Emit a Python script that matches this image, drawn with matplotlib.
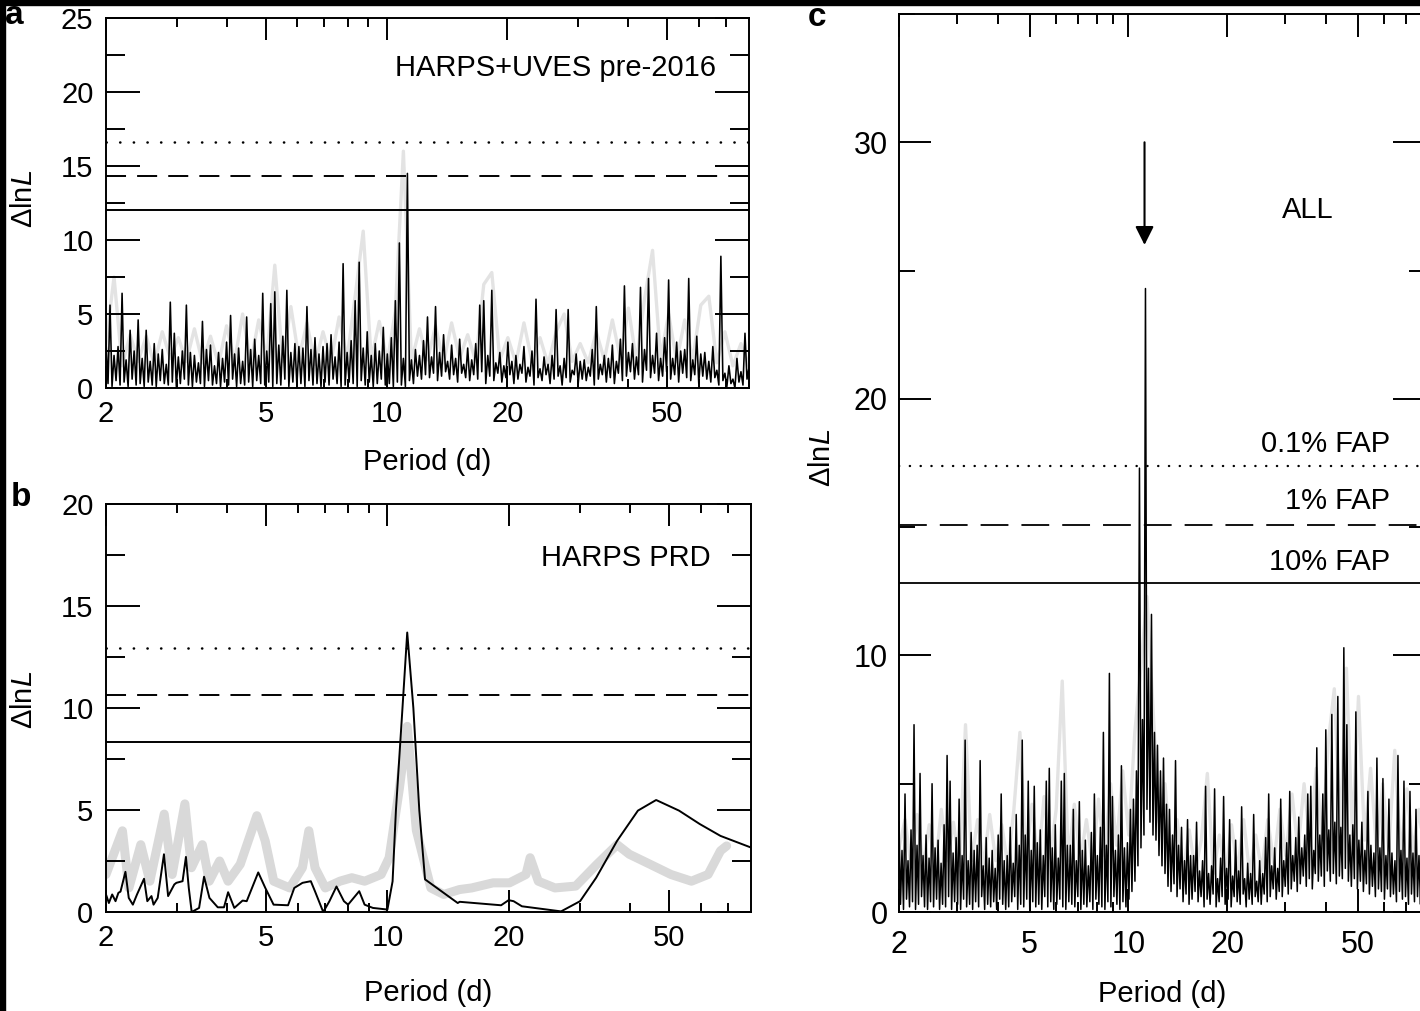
import numpy as np
import matplotlib
matplotlib.use('Agg')
import matplotlib.pyplot as plt
from matplotlib.ticker import FixedLocator, MultipleLocator, NullFormatter, FuncFormatter
from matplotlib.patches import Rectangle

plt.rcParams['font.family'] = ['Liberation Sans', 'DejaVu Sans']
plt.rcParams['mathtext.fontset'] = 'custom'
plt.rcParams['mathtext.rm'] = 'Liberation Sans'
plt.rcParams['mathtext.it'] = 'Liberation Sans:italic'

# ---- axis setup shared by the three panels
PMIN, PMAX = 2.0, 80.0
MAJOR_P = [2, 5, 10, 20, 50]
MINOR_P = [3, 4, 6, 7, 8, 9, 30, 40, 60, 70]

# ---- panel a: HARPS+UVES pre-2016
# local maxima and the minima between them, on a log-spaced period grid
a_peak = [
    3.2, 5.6, 2.2, 2.8, 6.4, 1.9, 3.9, 2.5, 4.6, 2.0,
    3.9, 1.8, 3.0, 2.3, 2.6, 1.6, 5.8, 3.7, 2.1, 2.5,
    5.6, 2.4, 2.2, 1.7, 4.5, 2.6, 2.9, 1.5, 2.4, 2.0,
    3.1, 4.9, 2.3, 2.7, 1.8, 4.8, 2.6, 3.3, 2.2, 6.4,
    2.5, 5.7, 6.5, 2.9, 3.5, 6.6, 2.4, 3.0, 2.8, 2.7,
    5.5, 2.6, 3.4, 2.3, 2.8, 3.0, 3.6, 2.1, 3.1, 8.4,
    2.4, 3.2, 5.9, 8.5, 2.7, 3.8, 2.2, 3.0, 2.5, 4.1,
    2.3, 3.4, 5.9, 9.8, 2.0, 14.5, 1.9, 2.6, 2.2, 3.2,
    4.8, 2.1, 5.5, 2.4, 3.6, 1.8, 2.9, 2.0, 3.3, 1.6,
    2.7, 1.9, 3.0, 5.6, 5.9, 2.2, 6.6, 1.7, 2.4, 1.5,
    3.1, 1.8, 2.2, 1.6, 2.8, 1.4, 2.5, 6.0, 1.3, 2.1,
    1.6, 2.2, 5.3, 1.5, 2.0, 5.3, 1.2, 2.3, 1.8, 1.9,
    1.4, 2.6, 5.5, 1.6, 2.2, 2.0, 2.9, 1.8, 3.3, 6.9,
    2.4, 3.0, 2.1, 6.8, 2.6, 7.4, 2.2, 3.7, 2.0, 3.4,
    7.3, 2.0, 3.1, 2.5, 2.6, 7.4, 1.9, 3.5, 2.3, 2.4,
    1.8, 2.8, 1.2, 8.9, 1.0, 1.5, 0.6, 2.0, 1.1, 3.7,
    1.4,
]
a_low = [
    0.3, 0.1, 0.5, 0.2, 0.4, 0.1, 0.6, 0.2, 0.3, 0.1,
    0.4, 0.2, 0.1, 0.5, 0.3, 0.2, 0.4, 0.1, 0.3, 0.6,
    0.2, 0.1, 0.4, 0.3, 0.1, 0.5, 0.2, 0.3, 0.1, 0.4,
    0.2, 0.6, 0.1, 0.3, 0.2, 0.4, 0.1, 0.5, 0.3, 0.2,
    0.4, 0.1, 0.3, 0.2, 0.6, 0.1, 0.4, 0.2, 0.3, 0.1,
    0.5, 0.2, 0.3, 0.1, 0.4, 0.2, 0.6, 0.3, 0.1, 0.2,
    0.4, 0.3, 0.1, 0.5, 0.2, 0.4, 0.1, 0.3, 0.6, 0.2,
    0.3, 0.1, 0.4, 0.2, 0.1, 0.5, 0.3, 0.8, 0.6, 0.9,
    0.7, 1.0, 0.5, 0.8, 1.1, 0.6, 0.9, 0.4, 1.0, 0.7,
    0.5, 0.9, 0.6, 1.1, 0.3, 0.8, 0.5, 1.0, 0.4, 0.7,
    0.9, 0.3, 0.6, 1.0, 0.4, 0.8, 0.2, 0.7, 0.5, 0.9,
    0.3, 0.6, 0.8, 0.2, 0.7, 0.4, 0.9, 0.3, 0.6, 0.5,
    0.8, 0.2, 0.6, 0.9, 0.4, 0.7, 0.3, 1.0, 0.5, 0.8,
    1.1, 0.6, 0.9, 0.4, 1.2, 0.7, 1.0, 0.5, 0.8, 1.1,
    0.6, 0.9, 0.4, 1.0, 0.7, 0.5, 0.9, 0.3, 0.8, 0.6,
    0.4, 0.7, 0.2, 0.5, 0.1, 0.3, 0.0, 0.4, 0.2, 0.6,
]
a_gray = [
    3.0, 7.5, 1.5, 3.6, 1.8, 3.5, 1.6, 3.8, 2.0, 3.4,
    1.8, 4.0, 1.7, 3.5, 1.6, 4.2, 1.8, 5.0, 1.7, 4.6,
    2.0, 8.3, 1.8, 5.5, 2.0, 4.4, 1.6, 3.8, 1.8, 4.8,
    2.0, 6.2, 10.6, 1.9, 4.5, 1.8, 5.2, 16.0, 1.8, 4.0,
    1.9, 4.2, 1.7, 4.4, 2.0, 3.6, 1.8, 7.0, 7.8, 1.9,
    3.4, 1.7, 4.4, 1.8, 3.4, 1.6, 3.8, 5.0, 1.8, 3.0,
    1.7, 3.8, 1.9, 4.6, 2.0, 5.4, 1.8, 6.0, 9.3, 2.0,
    5.0, 1.8, 4.6, 1.9, 5.6, 6.2, 1.7, 3.8, 1.5, 3.0,
    1.5,
]
a_fap = [16.6, 14.3, 12.0]   # 0.1 %, 1 %, 10 %

# ---- panel b: HARPS PRD
b_black_period = [
    2.00, 2.033, 2.072, 2.112, 2.147, 2.173, 2.235, 2.278, 2.332, 2.388,
    2.486, 2.533, 2.594, 2.625, 2.688, 2.786, 2.853, 2.956, 2.991, 3.099,
    3.159, 3.211, 3.265, 3.406, 3.504, 3.614, 3.790, 3.927, 4.021, 4.166,
    4.368, 4.472, 4.777, 4.974, 5.215, 5.665, 5.871, 6.154, 6.453, 6.607,
    6.928, 7.178, 7.473, 7.798, 7.985, 8.511, 8.777, 9.203, 10.0, 10.3,
    10.5, 10.9, 11.2, 11.6, 12.0, 12.4, 14.95, 15.12, 19.16, 20.0,
    20.58, 21.58, 27.0, 30.1, 33.0, 37.2, 41.9, 46.5, 53.0, 59.7,
    67.2, 80.0,
]
b_black_value = [
    0.86, 0.44, 0.86, 0.53, 0.94, 1.00, 1.97, 0.69, 0.36, 0.86,
    1.63, 0.53, 0.78, 0.36, 0.69, 2.83, 0.78, 1.35, 1.43, 1.51,
    2.70, 1.18, 0.00, 0.20, 1.73, 0.69, 0.23, 0.23, 0.97, 0.20,
    0.56, 0.53, 1.94, 1.18, 0.36, 0.33, 1.18, 1.43, 1.51, 1.02,
    0.00, 0.53, 1.25, 0.53, 0.36, 1.02, 0.36, 0.20, 0.12, 1.50,
    5.00, 10.0, 13.7, 10.0, 5.00, 1.60, 0.44, 0.50, 0.33, 0.58,
    0.53, 0.28, 0.03, 0.53, 1.68, 3.49, 4.97, 5.49, 4.97, 4.31,
    3.73, 3.16,
]
b_gray_period = [
    2.00, 2.197, 2.28, 2.44, 2.57, 2.79, 2.92, 3.14, 3.26, 3.47,
    3.61, 3.83, 4.02, 4.31, 4.74, 4.97, 5.22, 5.72, 6.15, 6.38,
    6.61, 7.01, 7.62, 8.16, 8.78, 9.65, 10.1, 10.7, 11.2, 11.8,
    12.82, 13.8, 15.1, 16.2, 18.3, 20.1, 22.09, 22.62, 23.7, 26.07,
    29.35, 33.0, 37.2, 39.9, 44.9, 50.6, 56.9, 62.6, 67.2, 69.6,
]
b_gray_value = [
    1.84, 3.98, 1.18, 3.30, 1.51, 4.80, 1.84, 5.30, 2.17, 3.30,
    1.51, 2.50, 1.51, 2.34, 4.72, 3.49, 1.51, 1.18, 2.17, 3.98,
    2.17, 1.18, 1.51, 1.68, 1.51, 1.84, 2.66, 6.00, 9.10, 4.00,
    1.18, 0.86, 1.10, 1.18, 1.43, 1.43, 1.84, 2.66, 1.51, 1.18,
    1.27, 2.30, 3.30, 2.83, 2.34, 1.84, 1.51, 1.84, 3.00, 3.24,
]
b_fap = [12.94, 10.64, 8.33]

# ---- panel c: ALL
c_peak = [
    3.5, 2.4, 4.6, 2.0, 3.2, 7.3, 2.6, 5.4, 2.2, 3.0,
    2.1, 5.0, 2.5, 2.8, 1.9, 3.4, 6.1, 5.1, 2.3, 2.9,
    4.4, 2.2, 6.7, 2.0, 3.1, 2.4, 2.6, 5.9, 1.8, 2.9,
    2.1, 2.4, 1.7, 3.0, 4.6, 2.0, 2.2, 3.3, 1.9, 3.8,
    2.6, 6.7, 3.0, 5.1, 2.4, 4.9, 2.7, 3.2, 2.2, 5.1,
    5.6, 2.5, 3.4, 2.1, 5.1, 5.4, 2.6, 2.6, 4.0, 2.0,
    4.3, 2.4, 2.8, 1.8, 3.1, 4.6, 2.2, 3.3, 7.0, 2.6,
    9.3, 4.5, 2.4, 3.0, 5.7, 2.5, 2.7, 4.0, 4.4, 5.5,
    17.3, 7.5, 24.3, 9.5, 11.6, 7.0, 6.5, 5.5, 6.0, 4.2,
    4.0, 3.0, 5.9, 2.6, 3.3, 2.0, 3.6, 2.2, 2.2, 3.5,
    1.6, 2.0, 4.9, 1.5, 1.8, 4.8, 1.3, 2.1, 4.5, 1.7,
    3.6, 1.4, 2.8, 1.6, 4.1, 1.3, 1.9, 1.5, 3.8, 1.2,
    2.0, 1.5, 2.9, 4.6, 1.8, 2.5, 1.7, 4.4, 2.0, 2.7,
    4.7, 2.2, 2.9, 3.7, 2.5, 3.0, 4.6, 4.9, 2.4, 6.4,
    3.0, 4.6, 7.1, 3.2, 7.7, 3.5, 8.4, 3.3, 10.3, 7.3,
    3.0, 3.4, 7.8, 2.8, 3.5, 2.4, 4.7, 2.6, 2.3, 6.0,
    2.5, 5.2, 2.2, 4.4, 2.3, 2.0, 6.1, 2.4, 5.1, 2.1,
    4.7, 2.3, 4.0, 2.2, 3.5, 2.0,
]
c_low = [
    0.3, 0.1, 0.5, 0.2, 0.4, 0.1, 0.3, 0.6, 0.2, 0.1,
    0.4, 0.2, 0.5, 0.1, 0.3, 0.2, 0.6, 0.1, 0.4, 0.3,
    0.1, 0.5, 0.2, 0.3, 0.1, 0.4, 0.2, 0.6, 0.1, 0.3,
    0.2, 0.4, 0.1, 0.5, 0.3, 0.1, 0.2, 0.4, 0.6, 0.1,
    0.3, 0.2, 0.5, 0.1, 0.4, 0.2, 0.3, 0.1, 0.6, 0.2,
    0.4, 0.1, 0.3, 0.5, 0.2, 0.1, 0.4, 0.3, 0.2, 0.6,
    0.1, 0.3, 0.2, 0.4, 0.1, 0.5, 0.3, 0.2, 0.1, 0.4,
    0.2, 0.6, 0.3, 0.1, 0.4, 0.2, 0.5, 0.8, 1.2, 1.8,
    2.5, 3.0, 4.0, 3.5, 3.0, 2.8, 2.2, 1.8, 1.5, 1.0,
    0.8, 1.1, 0.6, 0.9, 0.4, 0.7, 0.3, 0.5, 0.8, 0.4,
    0.6, 0.2, 0.5, 0.3, 0.7, 0.2, 0.4, 0.6, 0.3, 0.5,
    0.2, 0.6, 0.4, 0.3, 0.7, 0.2, 0.5, 0.3, 0.6, 0.4,
    0.3, 0.7, 0.4, 0.6, 0.9, 0.5, 0.8, 0.6, 1.0, 0.7,
    0.9, 1.2, 0.8, 1.1, 1.4, 1.0, 1.3, 0.9, 1.5, 1.2,
    1.4, 1.0, 1.6, 1.2, 1.5, 1.1, 1.4, 1.3, 1.7, 1.2,
    1.0, 1.3, 0.9, 1.2, 0.8, 1.1, 0.7, 1.0, 0.6, 0.9,
    0.8, 0.5, 0.9, 0.6, 0.7, 0.4, 0.8, 0.5, 0.6, 0.3,
    0.7, 0.4, 0.6, 0.3, 0.5,
]
c_gray = [
    2.5, 3.6, 1.8, 3.8, 1.8, 3.4, 1.7, 4.0, 2.0, 3.5,
    1.8, 7.3, 2.0, 3.6, 1.8, 3.8, 2.0, 3.4, 1.8, 4.0,
    7.0, 2.0, 4.2, 1.9, 4.5, 2.1, 4.0, 9.0, 2.0, 4.2,
    2.0, 3.6, 1.8, 4.4, 2.2, 5.0, 2.6, 5.5, 3.0, 7.0,
    9.5, 12.3, 8.0, 3.5, 5.0, 2.0, 3.6, 1.6, 3.2, 1.6,
    2.8, 5.4, 1.5, 3.0, 1.4, 3.4, 1.6, 3.6, 1.5, 3.0,
    1.6, 3.6, 1.9, 4.0, 2.2, 4.6, 2.4, 5.0, 2.6, 5.6,
    2.8, 6.6, 8.7, 3.2, 9.5, 3.0, 8.4, 2.8, 5.6, 2.4,
    5.0, 2.4, 6.3, 2.2, 4.8, 2.4, 4.0, 2.0,
]
c_fap = [17.4, 15.1, 12.84]
c_fap_labels = ['0.1% FAP', '1% FAP', '10% FAP']
c_fap_label_y = [18.25, 16.0, 13.66]
c_peak_period = 11.19

GRAY_THIN = '#e3e3e3'
GRAY_THICK = '#d9d9d9'
W, H = 1420, 1011


def interleave(peaks, lows):
    out = np.empty(len(peaks) + len(lows))
    out[0::2] = peaks
    out[1::2] = lows
    return out


def style_axis(ax, ymax, ymajor, yminor, ylen, xlen, fsize, xpad, ypad):
    ax.set_xscale('log')
    ax.set_xlim(PMIN, PMAX)
    ax.set_ylim(0, ymax)
    ax.xaxis.set_major_locator(FixedLocator(MAJOR_P))
    ax.xaxis.set_minor_locator(FixedLocator(MINOR_P))
    ax.xaxis.set_major_formatter(FuncFormatter(lambda v, _: f'{v:g}'))
    ax.xaxis.set_minor_formatter(NullFormatter())
    ax.yaxis.set_major_locator(MultipleLocator(ymajor))
    ax.yaxis.set_minor_locator(MultipleLocator(yminor))
    ax.tick_params(axis='both', which='both', direction='in', top=True, right=True,
                   width=1.4, labelsize=fsize, color='black')
    ax.tick_params(axis='x', which='major', length=xlen[0], pad=xpad)
    ax.tick_params(axis='x', which='minor', length=xlen[1])
    ax.tick_params(axis='y', which='major', length=ylen[0], pad=ypad)
    ax.tick_params(axis='y', which='minor', length=ylen[1])
    for s in ax.spines.values():
        s.set_linewidth(1.4)


def fap_lines(ax, levels, dot, dash, lw=1.4):
    ax.axhline(levels[0], color='black', lw=lw * 1.3, linestyle=(0, dot),
               dash_capstyle='round', zorder=4)
    ax.axhline(levels[1], color='black', lw=lw, linestyle=(0, dash), zorder=4)
    ax.axhline(levels[2], color='black', lw=lw, zorder=4)


fig = plt.figure(figsize=(W / 100, H / 100), dpi=100)

def box(left, top, right, bottom):
    return [left / W, 1 - bottom / H, (right - left) / W, (bottom - top) / H]

ax_a = fig.add_axes(box(106, 18, 749, 388))
ax_b = fig.add_axes(box(106, 504, 751, 912))
ax_c = fig.add_axes(box(899, 14, 1425, 912))

# panel a
a_black = interleave(a_peak, a_low)
pa = np.geomspace(PMIN, PMAX, len(a_black))
pag = np.geomspace(PMIN, PMAX, len(a_gray))
ax_a.plot(pag, a_gray, color=GRAY_THIN, lw=2.4, zorder=1, solid_joinstyle='round')
ax_a.plot(pa, a_black, color='black', lw=1.15, zorder=3)
fap_lines(ax_a, a_fap, (0.1, 5.3), (10.3, 5.7))
style_axis(ax_a, 25, 5, 2.5, (24.5, 13.7), (16, 6.5), 21, 9, 9)
ax_a.text(0.949, 21.6, 'HARPS+UVES pre-2016', transform=ax_a.get_yaxis_transform(),
          ha='right', va='center', fontsize=21)

# panel b
ax_b.plot(b_gray_period, b_gray_value, color=GRAY_THICK, lw=6.5, zorder=1,
          solid_joinstyle='round', solid_capstyle='round')
ax_b.plot(b_black_period, b_black_value, color='black', lw=1.4, zorder=3)
fap_lines(ax_b, b_fap, (0.1, 5.3), (10.3, 5.7))
style_axis(ax_b, 20, 5, 2.5, (24.5, 13.7), (16, 6.5), 21, 9, 9)
ax_b.text(0.938, 17.35, 'HARPS PRD', transform=ax_b.get_yaxis_transform(),
          ha='right', va='center', fontsize=21)

# panel c
c_black = interleave(c_peak, c_low)
pc = np.geomspace(PMIN, PMAX, len(c_black))
pcg = np.geomspace(PMIN, PMAX, len(c_gray))
ax_c.plot(pcg, c_gray, color=GRAY_THIN, lw=2.4, zorder=1, solid_joinstyle='round')
ax_c.plot(pc, c_black, color='black', lw=1.1, zorder=3)
fap_lines(ax_c, c_fap, (0.1, 4.5), (15.4, 7.2), lw=1.3)
style_axis(ax_c, 35, 10, 5, (23, 11.5), (16.5, 7), 22, 13, 8)
for lab, yt in zip(c_fap_labels, c_fap_label_y):
    ax_c.text(0.933, yt, lab, transform=ax_c.get_yaxis_transform(),
              ha='right', va='center', fontsize=21)
ax_c.text(0.778, 27.35, 'ALL', transform=ax_c.get_yaxis_transform(),
          ha='center', va='center', fontsize=21)
ax_c.annotate('', xy=(c_peak_period, 26.0), xytext=(c_peak_period, 30.0),
              arrowprops=dict(arrowstyle='-|>', color='black', lw=1.5,
                              mutation_scale=28, shrinkA=0, shrinkB=0))

# axis labels
for ax, xl, yl in [(ax_a, -0.162, (-0.106, 0.51)), (ax_b, -0.164, (-0.105, 0.52)),
                   (ax_c, -0.076, (-0.12, 0.506))]:
    ax.set_xlabel('Period (d)', fontsize=21)
    ax.xaxis.set_label_coords(0.5, xl)
    ax.set_ylabel('Δln$\\mathit{L}$', fontsize=21)
    ax.yaxis.set_label_coords(*yl)

# panel letters
for lab, x, y in [('a', 14, 16), ('b', 21, 498), ('c', 817, 18)]:
    fig.text(x / W, 1 - y / H, lab, fontsize=24, fontweight='bold',
             ha='center', va='center')

# black scan border at top and left
fig.add_artist(Rectangle((0, 1 - 5 / H), 1, 5 / H, transform=fig.transFigure,
                         color='black', zorder=10))
fig.add_artist(Rectangle((0, 0), 5 / W, 1, transform=fig.transFigure,
                         color='black', zorder=10))

fig.savefig('out.png', dpi=100)
